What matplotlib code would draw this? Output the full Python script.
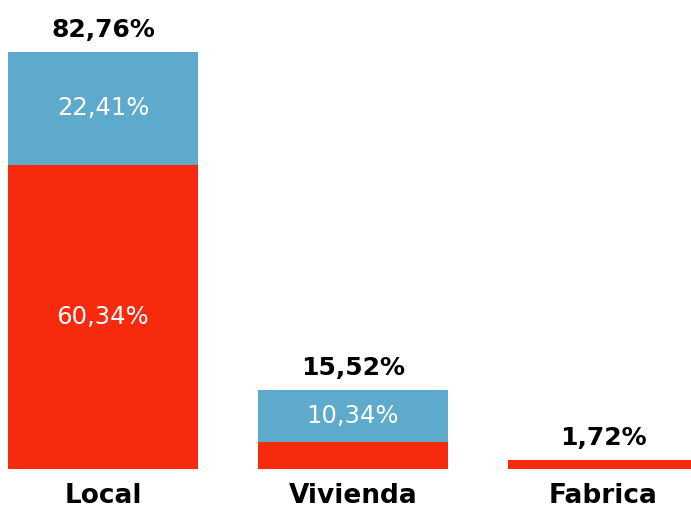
import matplotlib.pyplot as plt
import numpy as np

categories = ["Local", "Vivienda", "Fabrica"]
red_values = [60.34, 5.18, 1.72]
blue_values = [22.41, 10.34, 0.0]
totals = [82.76, 15.52, 1.72]

RED = "#F82A0D"
BLUE = "#5DAACC"


def fmt(v: float) -> str:
    return f"{v:.2f}".replace(".", ",") + "%"


plt.rcParams["font.family"] = ["DejaVu Sans"]

fig = plt.figure(figsize=(6.91, 5.05), dpi=100)
ax = fig.add_axes([0, 36.5 / 505, 1, 468.5 / 505])

x = np.arange(len(categories))
width = 0.76
red = np.array(red_values)
blue = np.array(blue_values)

ax.bar(x, red, width=width, color=RED, linewidth=0)
ax.bar(x, blue, width=width, bottom=red, color=BLUE, linewidth=0)

for i in range(len(categories)):
    if red[i] > 20:
        ax.text(x[i], red[i] / 2, fmt(red[i]), ha="center", va="center",
                color="white", fontsize=17.5)
    if blue[i] > 5:
        ax.text(x[i], red[i] + blue[i] / 2, fmt(blue[i]), ha="center", va="center",
                color="white", fontsize=17.5)
    ax.annotate(fmt(totals[i]), (x[i], red[i] + blue[i]), xytext=(0, 10.8),
                textcoords="offset points", ha="center", va="baseline",
                fontsize=18, fontweight="bold", color="black")
    ax.annotate(categories[i], (x[i], 0), xycoords=("data", "axes fraction"),
                xytext=(0, -24.8), textcoords="offset points", ha="center",
                va="baseline", fontsize=19, fontweight="bold", color="black",
                annotation_clip=False)

ax.set_xlim(-0.412, 2.352)
ax.set_ylim(0, 468.5 / 5.033)
ax.axis("off")

fig.savefig("out.png", dpi=100)
